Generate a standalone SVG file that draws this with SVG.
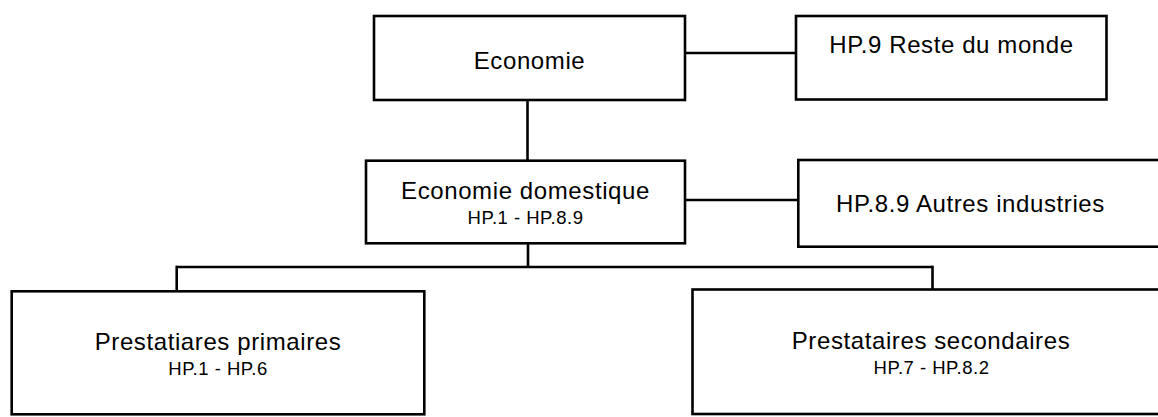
<svg xmlns="http://www.w3.org/2000/svg" width="1158" height="417" viewBox="0 0 1158 417">
  <style>
    .box { fill: #ffffff; stroke: #000000; stroke-width: 2.6; }
    .conn { fill: none; stroke: #000000; stroke-width: 2.6; }
    .t { font-family: "Liberation Sans", Arial, sans-serif; font-size: 24px; letter-spacing: 0.6px; fill: #000000; text-anchor: middle; }
    .s { font-family: "Liberation Sans", Arial, sans-serif; font-size: 18.5px; letter-spacing: 0.5px; fill: #000000; text-anchor: middle; }
  </style>
  <rect width="1158" height="417" fill="#ffffff"/>
  <g id="connectors">
    <line class="conn" x1="685" y1="53" x2="796" y2="53"/>
    <line class="conn" x1="527.5" y1="100" x2="527.5" y2="161"/>
    <line class="conn" x1="685" y1="200" x2="798" y2="200"/>
    <line class="conn" x1="528" y1="243" x2="528" y2="267"/>
    <line class="conn" x1="176.7" y1="267" x2="932.5" y2="267"/>
    <line class="conn" x1="176.7" y1="265.7" x2="176.7" y2="296"/>
    <line class="conn" x1="932.5" y1="265.7" x2="932.5" y2="289"/>
  </g>
  <g id="node-economie">
    <rect class="box" x="374" y="16" width="311" height="84"/>
    <text class="t" x="529.5" y="69">Economie</text>
  </g>
  <g id="node-reste-du-monde">
    <rect class="box" x="796" y="16" width="310.5" height="83.5"/>
    <text class="t" x="951.5" y="53.3">HP.9 Reste du monde</text>
  </g>
  <g id="node-economie-domestique">
    <rect class="box" x="366" y="160.7" width="319" height="82.6"/>
    <text class="t" x="525.5" y="199.3">Economie domestique</text>
    <text class="s" x="525.5" y="224">HP.1 - HP.8.9</text>
  </g>
  <g id="node-autres-industries">
    <rect class="box" x="798.3" y="160" width="370" height="86.7"/>
    <text class="t" x="970.5" y="211.7">HP.8.9 Autres industries</text>
  </g>
  <g id="node-prestataires-primaires">
    <rect class="box" x="11.7" y="291.3" width="412.6" height="123"/>
    <text class="t" x="218" y="350">Prestatiares primaires</text>
    <text class="s" x="218" y="375">HP.1 - HP.6</text>
  </g>
  <g id="node-prestataires-secondaires">
    <rect class="box" x="692.5" y="289.5" width="480" height="124.5"/>
    <text class="t" x="931" y="349">Prestataires secondaires</text>
    <text class="s" x="931.5" y="374">HP.7 - HP.8.2</text>
  </g>
</svg>
